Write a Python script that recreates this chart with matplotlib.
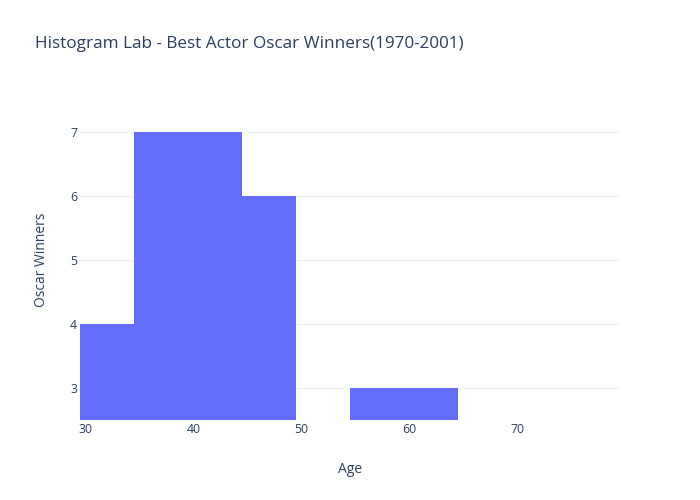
import matplotlib
matplotlib.use("Agg")
import matplotlib.pyplot as plt

plt.rcParams['font.family'] = ['Open Sans', 'DejaVu Sans']

bin_edges = [29.5, 34.5, 39.5, 44.5, 49.5, 54.5, 59.5, 64.5, 69.5, 74.5, 79.5]
counts = [4, 7, 7, 6, 1, 3, 3, 0, 0, 1]
x_ticks = [30, 40, 50, 60, 70]
y_ticks = [3, 4, 5, 6, 7]

title = "Histogram Lab - Best Actor Oscar Winners(1970-2001)"
xlabel = "Age"
ylabel = "Oscar Winners"

txt = '#2a3f5f'
fig = plt.figure(figsize=(7, 5), dpi=100)
ax = fig.add_axes([80/700, 80/500, 540/700, 320/500])

lefts = bin_edges[:-1]
widths = [b - a for a, b in zip(bin_edges[:-1], bin_edges[1:])]
ax.bar(lefts, counts, width=widths, align='edge', color='#636efa', linewidth=0, zorder=2)

ax.set_xlim(29.5, 79.5)
ax.set_ylim(2.5, 7.5)
ax.set_xticks(x_ticks)
ax.set_yticks(y_ticks)
ax.grid(axis='y', color='#ebf0f8', linewidth=1, zorder=0)
ax.set_axisbelow(True)
for s in ax.spines.values():
    s.set_visible(False)
ax.tick_params(axis='both', length=0, labelsize=8.8, colors=txt)
ax.tick_params(axis='x', pad=2)
ax.tick_params(axis='y', pad=2)

ax.set_xlabel(xlabel, fontsize=10, color=txt, labelpad=19)
ax.set_ylabel(ylabel, fontsize=10, color=txt, labelpad=15)
fig.text(35/700, 1 - 44/500, title, fontsize=12.3, color=txt, va='center', ha='left')

fig.savefig('out.png', dpi=100, facecolor='white')
